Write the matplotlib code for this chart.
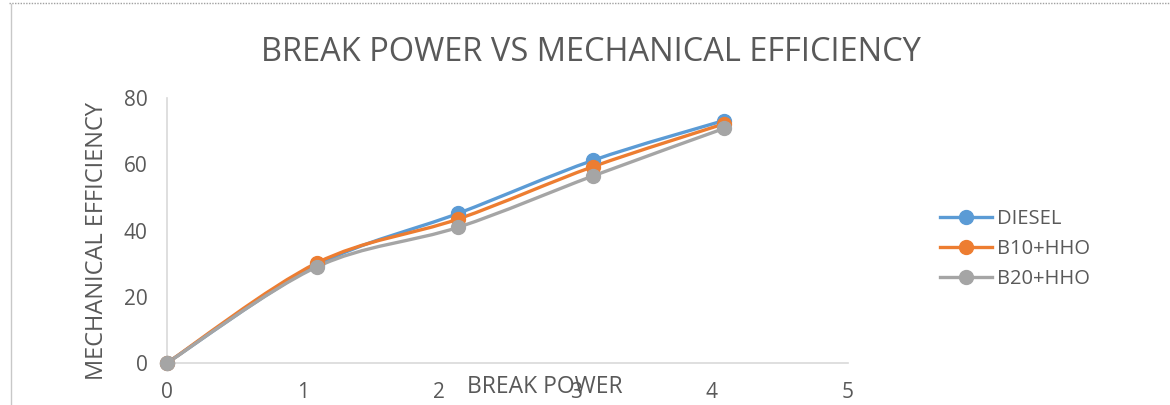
import matplotlib
matplotlib.use("Agg")
import matplotlib.pyplot as plt
from matplotlib.path import Path
from matplotlib.patches import PathPatch
from matplotlib.lines import Line2D
import numpy as np

# ---- data ----
break_power = [0, 1.1, 2.14, 3.13, 4.09]
diesel = [0, 29.5, 45.2, 61.2, 73.2]
b10_hho = [0, 30.2, 43.5, 59.3, 72.2]
b20_hho = [0, 29.0, 41.0, 56.5, 70.8]
series_names = ["DIESEL", "B10+HHO", "B20+HHO"]
colors = ["#5B9BD5", "#ED7D31", "#A5A5A5"]
title = "BREAK POWER VS MECHANICAL EFFICIENCY"
x_label = "BREAK POWER"
y_label = "MECHANICAL EFFICIENCY"

plt.rcParams['font.family'] = ['Open Sans', 'DejaVu Sans']
text_color = "#595959"

fig = plt.figure(figsize=(11.7, 4.05), dpi=100)
ax = fig.add_axes([0.1427, 0.1037, 0.582, 0.6543])


def smooth_path(xs, ys):
    pts = np.column_stack([xs, ys]).astype(float)
    n = len(pts)
    verts = [pts[0]]
    codes = [Path.MOVETO]
    for i in range(n - 1):
        p0 = pts[i - 1] if i > 0 else pts[i]
        p1 = pts[i]
        p2 = pts[i + 1]
        p3 = pts[i + 2] if i + 2 < n else pts[i + 1]
        c1 = p1 + (p2 - p0) / 6.0
        c2 = p2 - (p3 - p1) / 6.0
        verts += [c1, c2, p2]
        codes += [Path.CURVE4] * 3
    return Path(verts, codes)


all_series = [diesel, b10_hho, b20_hho]
for ys, name, c in zip(all_series, series_names, colors):
    patch = PathPatch(smooth_path(break_power, ys), facecolor='none',
                      edgecolor=c, lw=2.4, capstyle='round', joinstyle='round')
    ax.add_patch(patch)
    ax.plot(break_power, ys, linestyle='none', marker='o', markersize=10,
            color=c, label=name, clip_on=False, zorder=3)

ax.set_xlim(0, 5)
ax.set_ylim(0, 80)
ax.set_xticks(range(0, 6))
ax.set_yticks(range(0, 81, 20))
ax.tick_params(length=0, labelsize=15, labelcolor=text_color)
ax.tick_params(axis='x', pad=14)
ax.tick_params(axis='y', pad=14)
for s in ['top', 'right']:
    ax.spines[s].set_visible(False)
for s in ['left', 'bottom']:
    ax.spines[s].set_color('#D9D9D9')
    ax.spines[s].set_linewidth(1.2)

fig.text(0.505, 0.87, title, ha='center', va='center', fontsize=23.5,
         color=text_color)
fig.text(0.466, 0.045, x_label, ha='center', va='center', fontsize=16.5,
         color=text_color)
fig.text(0.083, 0.405, y_label, ha='center', va='center', fontsize=17,
         color=text_color, rotation=90)

handles = [Line2D([0], [0], color=c, lw=2.4, marker='o', markersize=10)
           for c in colors]
leg = fig.legend(handles, series_names, loc='center left',
                 bbox_to_anchor=(0.788, 0.385), frameon=False, fontsize=14.5,
                 handlelength=2.6, labelspacing=0.5, handletextpad=0.25)
for t in leg.get_texts():
    t.set_color(text_color)

# chart-area border bits
fig.add_artist(Line2D([0.008, 1.0], [0.993, 0.993], color='#A0A0A0', lw=1,
                      linestyle=(0, (1, 1)), transform=fig.transFigure))
fig.add_artist(Line2D([0.009, 0.009], [0.0, 0.99], color='#C8C8C8', lw=1,
                      transform=fig.transFigure))

fig.savefig("out.png", dpi=100)
